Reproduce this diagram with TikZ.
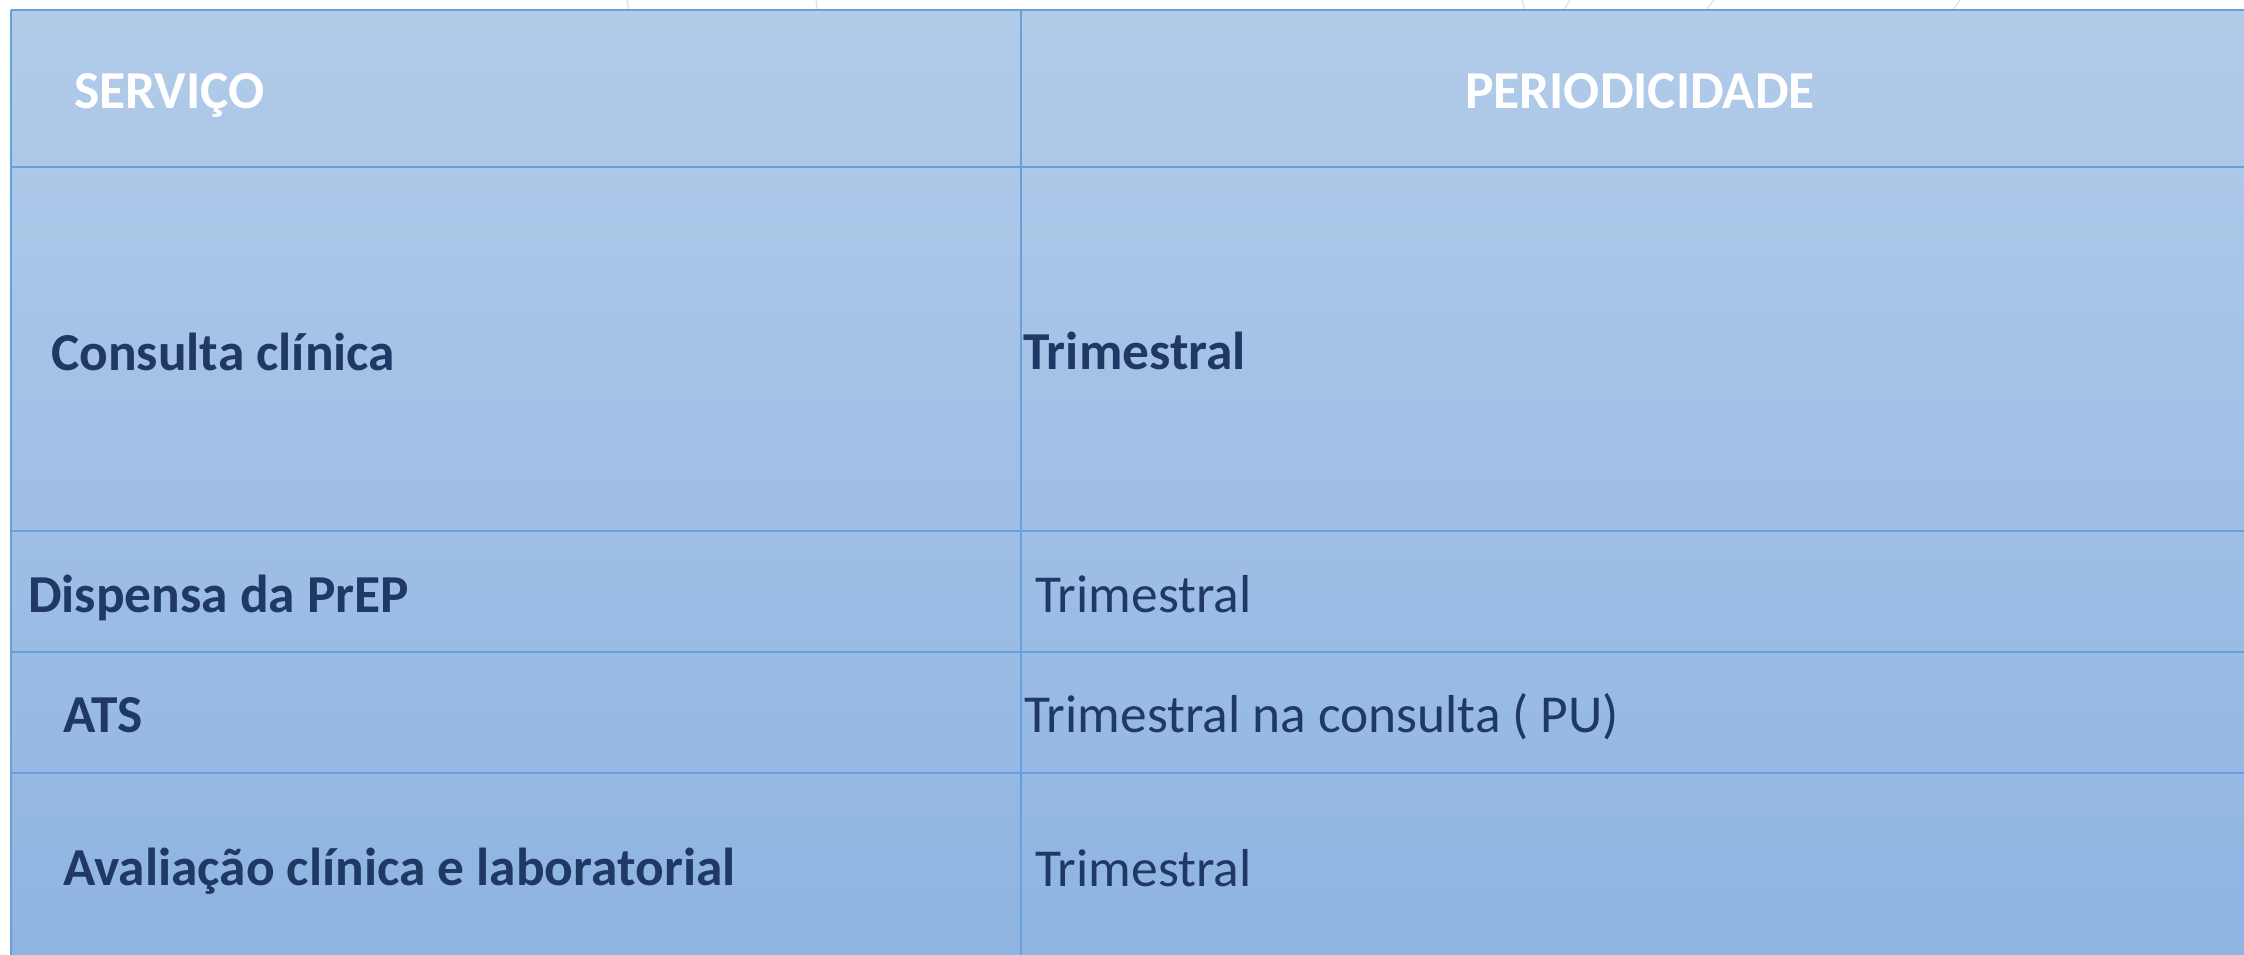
\documentclass[tikz,border=0pt]{standalone}
\usepackage{fontspec}
\setmainfont{Carlito}
\definecolor{navy}{HTML}{1F3864}
\definecolor{gridblue}{HTML}{67A0DA}
\definecolor{celltop}{HTML}{B2CBE9}
\definecolor{cellbot}{HTML}{8DB3E2}
\definecolor{faint}{HTML}{DCDCDC}
\begin{document}
\begin{tikzpicture}[x=1pt,y=-1pt,
  cell/.style={inner sep=0pt,anchor=base west,font=\fontsize{53.4}{60}\selectfont},
  body/.style={cell,text=navy},
  bodyb/.style={cell,text=navy,font=\fontsize{53.4}{60}\selectfont\bfseries},
  head/.style={inner sep=0pt,text=white,font=\fontsize{53.4}{60}\selectfont\bfseries},
  gridline/.style={draw=gridblue,line width=2pt},
  deco/.style={draw=faint,line width=1pt}]
\useasboundingbox (0,0) rectangle (2244,954);
\fill[white] (0,0) rectangle (2244,954);
% faint background strokes above the table
\draw[deco] (627,0) -- (629,10);
\draw[deco] (816,0) -- (817,10);
\draw[deco] (1522,0) -- (1525,10);
\draw[deco] (1570,0) -- (1564,10);
\draw[deco] (1714,0) -- (1706,10);
\draw[deco] (1960,0) -- (1953,10);
% table body
\shade[top color=celltop,bottom color=cellbot] (11,10) rectangle (2262,990);
\draw[gridline] (11,10) -- (2262,10);
\draw[gridline] (11,167) -- (2262,167);
\draw[gridline] (11,531) -- (2262,531);
\draw[gridline] (11,652) -- (2262,652);
\draw[gridline] (11,773) -- (2262,773);
\draw[gridline] (11,10) -- (11,990);
\draw[gridline] (1021,10) -- (1021,990);
% header
\node[head,anchor=base west] (h1) at (74,108) {SERVIÇO};
\node[head,anchor=base] (h2) at (1640,108) {PERIODICIDADE};
% rows
\node[bodyb] (s1) at (51,370) {Consulta clínica};
\node[bodyb] (p1) at (1023,369) {Trimestral};
\node[bodyb] (s2) at (28,612) {Dispensa da PrEP};
\node[body] (p2) at (1035,612) {Trimestral};
\node[bodyb] (s3) at (63,732) {ATS};
\node[body] (p3) at (1024,732) {Trimestral na consulta ( PU)};
\node[bodyb] (s4) at (63,885) {Avaliação clínica e laboratorial};
\node[body] (p4) at (1035,886) {Trimestral};
\end{tikzpicture}
\end{document}
